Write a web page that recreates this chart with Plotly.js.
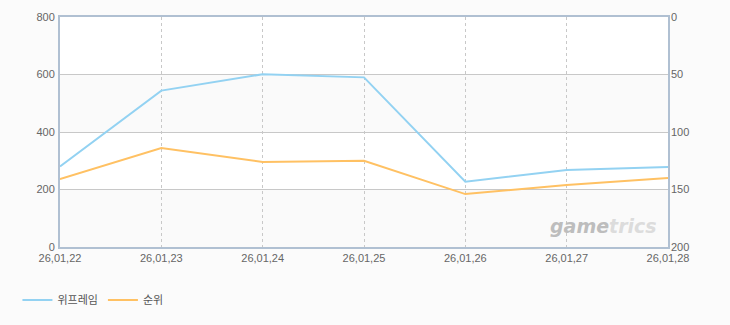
<!DOCTYPE html>
<html><head><meta charset="utf-8">
<script src="https://cdn.plot.ly/plotly-3.0.1.min.js"></script>
<style>html,body{margin:0;padding:0;background:#fbfbfb;}</style>
</head><body>
<div id="chart" style="width:730px;height:325px;"></div>
<script>
const dates = ["26,01,22","26,01,23","26,01,24","26,01,25","26,01,26","26,01,27","26,01,28"];
const playerCount = [280, 544, 601, 590, 227, 268, 278];
const rank = [141, 114, 126, 125, 154, 146, 140];
const leftTicks = [0, 200, 400, 600, 800];
const rightTicks = [0, 50, 100, 150, 200];
const seriesNames = ["위프레임", "순위"];

const font = {family: "Liberation Sans, Arial, sans-serif", size: 11, color: "#666"};

const traces = [
  {x: dates, y: playerCount, name: seriesNames[0], type: "scatter", mode: "lines",
   line: {color: "#93d2f2", width: 2}, yaxis: "y"},
  {x: dates, y: rank, name: seriesNames[1], type: "scatter", mode: "lines",
   line: {color: "#ffc163", width: 2}, yaxis: "y2"}
];

const bands = [];
for (let i = 0; i < leftTicks.length - 1; i += 2) {
  bands.push({type: "rect", xref: "paper", yref: "y", x0: 0, x1: 1,
    y0: leftTicks[i], y1: leftTicks[i + 1], fillcolor: "#fafafa", line: {width: 0}, layer: "below"});
}

const layout = {
  width: 730, height: 325,
  paper_bgcolor: "#fbfbfb", plot_bgcolor: "#ffffff",
  margin: {l: 60, r: 62, t: 17, b: 77},
  font: font,
  showlegend: true,
  legend: {orientation: "h", x: -0.07, xanchor: "left", y: -0.225, yanchor: "middle",
    font: {family: "Noto Sans CJK KR, sans-serif", size: 11, color: "#555"},
    bgcolor: "rgba(0,0,0,0)", itemwidth: 30},
  xaxis: {type: "category", range: [0, dates.length - 1], showgrid: true,
    gridcolor: "#c8c8c8", griddash: "3px,3px", gridwidth: 1,
    showline: true, linecolor: "#b0c0d2", linewidth: 2, mirror: true,
    ticks: "", tickfont: font, zeroline: false, fixedrange: true},
  yaxis: {range: [0, 800], tickvals: leftTicks, showgrid: true, gridcolor: "#c8c8c8",
    showline: true, linecolor: "#b0c0d2", linewidth: 2, mirror: true,
    ticks: "", tickfont: font, zeroline: false, ticklabelstandoff: 1},
  yaxis2: {range: [200, 0], tickvals: rightTicks, overlaying: "y", side: "right",
    showgrid: false, showline: false, ticks: "", tickfont: font, zeroline: false,
    ticklabelstandoff: 2},
  shapes: bands,
  annotations: [{xref: "paper", yref: "paper", x: 0.985, y: 0.035, xanchor: "right", yanchor: "bottom",
    text: "<b><i>game<span style='color:#dcdcdc'>trics</span></i></b>", showarrow: false,
    font: {family: "DejaVu Sans, sans-serif", size: 19, color: "#bdbdbd"}}]
};

Plotly.newPlot("chart", traces, layout, {displayModeBar: false, staticPlot: true});
</script>
</body></html>
